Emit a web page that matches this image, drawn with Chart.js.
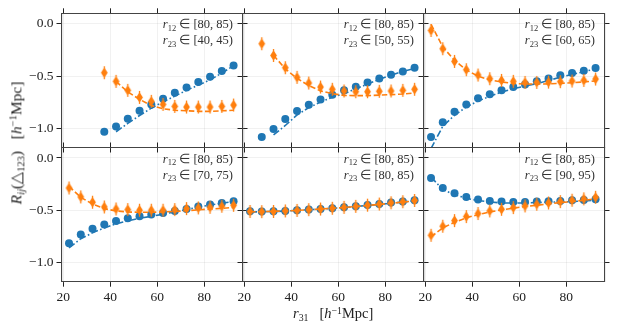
<!DOCTYPE html>
<html>
<head>
<meta charset="utf-8">
<script src="https://cdn.jsdelivr.net/npm/chart.js@4.4.0/dist/chart.umd.min.js"></script>
<style>
  body { margin: 0; background: #fff; }
  #wrap { position: relative; width: 618px; height: 330px; font-family: "Liberation Serif", serif; color: #222; }
  #wrap canvas { position: absolute; left: 0; top: 0; }
  .note { position: absolute; text-align: right; font-size: 12.5px; line-height: 15px; color: #333; white-space: nowrap; }
  .lab { position: absolute; font-size: 14.5px; white-space: nowrap; color: #222; }
  #ylab { font-size: 15.5px; }
  .sb { font-size: 0.68em; position: relative; top: 0.3em; }
  .sp { font-size: 0.68em; position: relative; top: -0.45em; }
</style>
</head>
<body>
<div id="wrap"></div>
<script>
// separation r31 bins (centres)
const r31 = [22.5, 27.5, 32.5, 37.5, 42.5, 47.5, 52.5, 57.5, 62.5, 67.5, 72.5, 77.5, 82.5, 87.5, 92.5];
const xTicks = [20, 40, 60, 80];
const yTicks = [-1.0, -0.5, 0.0];

const r12Labels = ["[80, 85)", "[80, 85)", "[80, 85)", "[80, 85)", "[80, 85)", "[80, 85)"];
const r23Labels = ["[40, 45)", "[50, 55)", "[60, 65)", "[70, 75)", "[80, 85)", "[90, 95)"];

// measured points (blue circles / orange diamonds) and models (lines)
const blue1 = [null, null, null, -1.03, -0.98, -0.905, -0.83, -0.77, -0.715, -0.657, -0.607, -0.556, -0.505, -0.451, -0.397];
const orange1 = [null, null, null, -0.467, -0.549, -0.635, -0.702, -0.74, -0.769, -0.788, -0.794, -0.794, -0.794, -0.788, -0.775];
const blueModel1 = [null, null, null, null, -1.03, -0.95, -0.875, -0.805, -0.745, -0.69, -0.635, -0.585, -0.535, -0.47, -0.40];
const orangeModel1 = [null, null, null, null, -0.55, -0.65, -0.72, -0.78, -0.81, -0.825, -0.83, -0.835, -0.835, -0.83, -0.825];

const blue2 = [null, -1.079, -1.003, -0.908, -0.832, -0.772, -0.721, -0.676, -0.635, -0.6, -0.559, -0.521, -0.486, -0.454, -0.419];
const orange2 = [null, -0.19, -0.302, -0.419, -0.511, -0.565, -0.603, -0.625, -0.641, -0.648, -0.648, -0.644, -0.641, -0.635, -0.625];
const blueModel2 = [null, null, -1.06, -0.97, -0.87, -0.8, -0.747, -0.7, -0.667, -0.62, -0.575, -0.53, -0.49, -0.455, -0.425];
const orangeModel2 = [null, null, -0.3, -0.43, -0.52, -0.59, -0.64, -0.667, -0.683, -0.685, -0.685, -0.68, -0.676, -0.67, -0.66];

const blue3 = [-1.079, -0.94, -0.838, -0.769, -0.711, -0.673, -0.635, -0.603, -0.578, -0.549, -0.521, -0.492, -0.47, -0.448, -0.422];
const orange3 = [-0.064, -0.238, -0.359, -0.438, -0.489, -0.524, -0.54, -0.549, -0.559, -0.559, -0.556, -0.552, -0.546, -0.54, -0.527];
const blueModel3 = [-1.19, -0.978, -0.873, -0.794, -0.737, -0.692, -0.651, -0.619, -0.594, -0.571, -0.54, -0.51, -0.483, -0.457, -0.43];
const orangeModel3 = [-0.005, -0.22, -0.35, -0.44, -0.5, -0.535, -0.555, -0.568, -0.575, -0.575, -0.573, -0.568, -0.562, -0.555, -0.545];

const blue4 = [-0.813, -0.73, -0.676, -0.635, -0.6, -0.575, -0.556, -0.54, -0.524, -0.505, -0.486, -0.463, -0.444, -0.429, -0.413];
const orange4 = [-0.286, -0.371, -0.422, -0.467, -0.486, -0.492, -0.498, -0.498, -0.498, -0.492, -0.483, -0.476, -0.47, -0.46, -0.451];
const blueModel4 = [-0.857, -0.77, -0.714, -0.667, -0.629, -0.6, -0.575, -0.556, -0.537, -0.514, -0.492, -0.47, -0.448, -0.432, -0.416];
const orangeModel4 = [-0.27, -0.375, -0.44, -0.483, -0.505, -0.515, -0.518, -0.518, -0.515, -0.51, -0.503, -0.495, -0.487, -0.48, -0.472];

const blue5 = [-0.508, -0.511, -0.508, -0.505, -0.498, -0.492, -0.486, -0.479, -0.47, -0.46, -0.448, -0.438, -0.425, -0.416, -0.403];
const orange5 = [-0.51, -0.512, -0.51, -0.505, -0.5, -0.493, -0.487, -0.48, -0.471, -0.461, -0.45, -0.439, -0.427, -0.417, -0.405];
const blueModel5 = [-0.515, -0.513, -0.51, -0.506, -0.5, -0.494, -0.487, -0.48, -0.472, -0.463, -0.453, -0.443, -0.432, -0.42, -0.408];
const orangeModel5 = [-0.513, -0.512, -0.509, -0.505, -0.5, -0.494, -0.487, -0.48, -0.472, -0.463, -0.453, -0.443, -0.432, -0.421, -0.409];

const blue6 = [-0.19, -0.286, -0.337, -0.371, -0.397, -0.41, -0.416, -0.419, -0.419, -0.416, -0.413, -0.41, -0.403, -0.4, -0.394];
const orange6 = [-0.737, -0.651, -0.597, -0.559, -0.53, -0.505, -0.489, -0.473, -0.457, -0.441, -0.429, -0.416, -0.403, -0.39, -0.375];
const blueModel6 = [-0.181, -0.302, -0.349, -0.384, -0.406, -0.419, -0.429, -0.429, -0.429, -0.425, -0.422, -0.419, -0.416, -0.41, -0.403];
const orangeModel6 = [-0.752, -0.667, -0.613, -0.571, -0.54, -0.514, -0.495, -0.479, -0.463, -0.451, -0.438, -0.425, -0.416, -0.403, -0.39];

const panels = [
  [blue1, orange1, blueModel1, orangeModel1],
  [blue2, orange2, blueModel2, orangeModel2],
  [blue3, orange3, blueModel3, orangeModel3],
  [blue4, orange4, blueModel4, orangeModel4],
  [blue5, orange5, blueModel5, orangeModel5],
  [blue6, orange6, blueModel6, orangeModel6],
];

const BLUE = "#1f77b4";
const ORANGE = "#ff7f0e";
const W = 618, H = 330;
const colL = [61.5, 242.5, 423.5], colR = [242.5, 423.5, 604.5];
const rowT = [13.3, 147.5], rowB = [147.5, 281.7];
const AX = 6;       // axis box without labels
const AXY = 45;     // left axis with labels
const AXX = 26;     // bottom axis with labels

function toPts(vals) {
  return r31.map((x, i) => ({ x: x, y: vals[i] })).filter((p) => p.y !== null);
}

// thin diamond marker with a short error bar
function diamond(color) {
  const c = document.createElement("canvas");
  c.width = 9; c.height = 15;
  const g = c.getContext("2d");
  g.fillStyle = color; g.strokeStyle = color;
  g.lineWidth = 1.3;
  g.beginPath(); g.moveTo(4.5, 1); g.lineTo(4.5, 14); g.stroke();
  g.beginPath();
  g.moveTo(4.5, 2.2); g.lineTo(7.9, 7.5); g.lineTo(4.5, 12.8); g.lineTo(1.1, 7.5);
  g.closePath(); g.fill();
  return c;
}
const dmd = diamond(ORANGE);

const minus = (v) => (v < 0 ? "\u2212" : "") + Math.abs(v).toFixed(1);
const setTicks = (vals) => (s) => { s.ticks = vals.map((v) => ({ value: v })); };
const fix = (n, vertical) => (s) => { if (vertical) s.width = n; else s.height = n; };
const tickFont = { family: "'Liberation Serif', serif", size: 13.5 };

const wrap = document.getElementById("wrap");

panels.forEach((p, k) => {
  const col = k % 3, row = Math.floor(k / 3);
  const cv = document.createElement("canvas");
  cv.width = W; cv.height = H;
  cv.style.width = W + "px"; cv.style.height = H + "px";
  wrap.appendChild(cv);

  const yW = col === 0 ? AXY : AX;
  const xH = row === 1 ? AXX : AX;
  const [b, o, bm, om] = p;
  const border = { display: true, color: "#444", width: 1.1 };
  const gridOn = { color: "rgba(0,0,0,0.07)", lineWidth: 0.8, tickColor: "#222", tickLength: 5, tickWidth: 1 };
  const gridOff = { color: "rgba(0,0,0,0)", tickColor: "#222", tickLength: 5, tickWidth: 1 };

  new Chart(cv, {
    type: "scatter",
    data: {
      datasets: [
        { data: toPts(om), showLine: true, borderColor: ORANGE, borderWidth: 1.6, borderDash: [5.5, 2.6], pointRadius: 0, fill: false },
        { data: toPts(o), pointStyle: dmd, backgroundColor: ORANGE, borderColor: ORANGE },
        { data: toPts(bm), showLine: true, borderColor: BLUE, borderWidth: 1.6, borderDash: [7, 2.4, 1.6, 2.4], pointRadius: 0, fill: false },
        { data: toPts(b), pointStyle: "circle", pointRadius: 4, backgroundColor: BLUE, borderColor: BLUE, borderWidth: 0 },
      ],
    },
    options: {
      responsive: false,
      animation: false,
      events: [],
      layout: {
        padding: {
          left: colL[col] - yW,
          right: W - colR[col] - AX,
          top: rowT[row] - AX,
          bottom: H - rowB[row] - xH,
        },
      },
      plugins: { legend: { display: false }, tooltip: { enabled: false } },
      scales: {
        x: {
          type: "linear", position: "bottom", min: 19.3, max: 96.3,
          afterBuildTicks: setTicks(xTicks), afterFit: fix(xH, false),
          grid: gridOn, border: border,
          ticks: { display: row === 1, font: tickFont, color: "#222", padding: 3, maxRotation: 0, autoSkip: false, callback: (v) => String(v) },
        },
        x2: {
          type: "linear", position: "top", min: 19.3, max: 96.3,
          afterBuildTicks: setTicks(xTicks), afterFit: fix(AX, false),
          grid: gridOff, border: border, ticks: { display: false },
        },
        y: {
          type: "linear", position: "left", min: -1.18, max: 0.1,
          afterBuildTicks: setTicks(yTicks), afterFit: fix(yW, true),
          grid: gridOn, border: border,
          ticks: { display: col === 0, font: tickFont, color: "#222", padding: 3, autoSkip: false, callback: minus },
        },
        y2: {
          type: "linear", position: "right", min: -1.18, max: 0.1,
          afterBuildTicks: setTicks(yTicks), afterFit: fix(AX, true),
          grid: gridOff, border: border, ticks: { display: false },
        },
      },
    },
  });

  const note = document.createElement("div");
  note.className = "note";
  note.style.right = (W - colR[col] + 9.5) + "px";
  note.style.top = (rowT[row] + 4) + "px";
  note.innerHTML =
    '<i>r</i><span class="sb">12</span> \u2208 ' + r12Labels[k] + "<br>" +
    '<i>r</i><span class="sb">23</span> \u2208 ' + r23Labels[k];
  wrap.appendChild(note);
});

// axis titles
const xl = document.createElement("div");
xl.className = "lab";
xl.innerHTML = '<i>r</i><span class="sb">31</span>&nbsp;&nbsp; [<i>h</i><span class="sp">\u22121</span>Mpc]';
wrap.appendChild(xl);
xl.style.left = (333 - xl.offsetWidth / 2) + "px";
xl.style.top = "305px";

const yl = document.createElement("div");
yl.className = "lab";
yl.id = "ylab";
yl.innerHTML = '<i>R</i><span class="sb"><i>ij</i></span>(\u25B3<span class="sb">123</span>)&nbsp;&nbsp; [<i>h</i><span class="sp">\u22121</span>Mpc]';
wrap.appendChild(yl);
yl.style.left = (16 - yl.offsetWidth / 2) + "px";
yl.style.top = (143 - yl.offsetHeight / 2) + "px";
yl.style.transform = "rotate(-90deg)";
</script>
</body>
</html>
